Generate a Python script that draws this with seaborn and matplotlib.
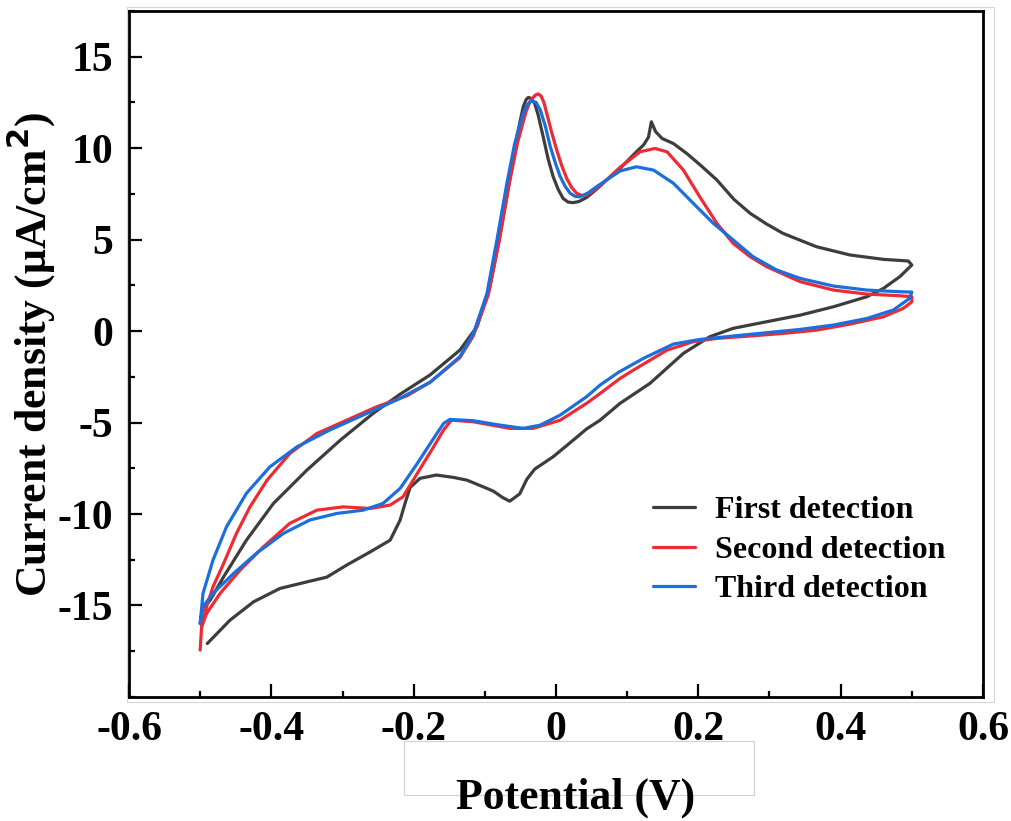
import numpy as np
import pandas as pd
import seaborn as sns
import matplotlib.pyplot as plt
from matplotlib.ticker import MultipleLocator, FixedLocator, FixedFormatter
from matplotlib.patches import Rectangle

# first detection (anodic branch then cathodic branch)
E1 = [-0.497, -0.486, -0.467, -0.435, -0.397, -0.350, -0.303, -0.257, -0.219, -0.177,
      -0.135, -0.111, -0.093, -0.079, -0.065, -0.055, -0.050, -0.046, -0.042, -0.039,
      -0.035, -0.030, -0.025, -0.018, -0.011, -0.004, 0.003, 0.010, 0.017, 0.024,
      0.032, 0.043, 0.057, 0.071, 0.090, 0.113, 0.123, 0.130, 0.134,
      0.140, 0.149, 0.165, 0.184, 0.205, 0.226, 0.250, 0.273, 0.296, 0.319,
      0.366, 0.413, 0.460, 0.495, 0.500,
      0.483, 0.460, 0.437, 0.390, 0.343, 0.296, 0.249, 0.216, 0.179, 0.132,
      0.090, 0.062, 0.043, 0.020, -0.004, -0.030, -0.041, -0.051, -0.058, -0.065,
      -0.075, -0.088, -0.097, -0.125, -0.144, -0.168, -0.191, -0.205, -0.212, -0.219,
      -0.233, -0.261, -0.294, -0.322, -0.350, -0.388, -0.425, -0.458, -0.490]
J1 = [-15.2, -14.71, -13.43, -11.43, -9.42, -7.60, -5.96, -4.50, -3.45, -2.40,
      -1.04, 0.24, 2.42, 5.16, 8.26, 10.62, 11.55, 12.26, 12.65, 12.77,
      12.72, 12.45, 11.80, 10.62, 9.40, 8.44, 7.75, 7.25, 7.05, 7.02,
      7.08, 7.30, 7.75, 8.26, 8.89, 9.80, 10.17, 10.6, 11.44,
      10.9, 10.53, 10.25, 9.70, 9.0, 8.26, 7.2, 6.43, 5.85, 5.34,
      4.61, 4.16, 3.92, 3.83, 3.61,
      2.97, 2.33, 1.88, 1.33, 0.87, 0.51, 0.15, -0.31, -1.22, -2.86,
      -3.95, -4.87, -5.35, -6.1, -6.87, -7.55, -8.10, -8.90, -9.10, -9.30,
      -9.10, -8.75, -8.60, -8.15, -8.00, -7.87, -8.05, -8.55, -9.4, -10.33,
      -11.43, -12.07, -12.79, -13.45, -13.71, -14.07, -14.80, -15.80, -17.08]

# second detection
E2 = [-0.500, -0.498, -0.491, -0.482, -0.467, -0.449, -0.430, -0.406, -0.374, -0.336,
      -0.294, -0.252, -0.210, -0.177, -0.135, -0.116, -0.095, -0.080, -0.066, -0.054,
      -0.042, -0.036, -0.029, -0.025, -0.021, -0.017, -0.013, -0.006, 0.001, 0.008,
      0.015, 0.022, 0.029, 0.036, 0.043, 0.054, 0.066,
      0.090, 0.118, 0.139, 0.156, 0.179, 0.202, 0.226, 0.249, 0.273, 0.296,
      0.343, 0.390, 0.437, 0.483, 0.500, 0.500,
      0.488, 0.460, 0.413, 0.366, 0.319, 0.273, 0.226, 0.193, 0.156, 0.109,
      0.090, 0.062, 0.043, 0.006, -0.032, -0.065, -0.116, -0.147, -0.158, -0.172,
      -0.196, -0.215, -0.233, -0.261, -0.299, -0.336, -0.374, -0.411, -0.444, -0.472,
      -0.491, -0.498]
J2 = [-17.44, -16.17, -15.07, -13.98, -12.70, -11.06, -9.61, -8.15, -6.69, -5.60,
      -4.87, -4.14, -3.55, -2.80, -1.45, -0.25, 2.0, 4.9, 8.0, 10.3,
      12.0, 12.6, 12.9, 12.96, 12.85, 12.5, 11.90, 10.85, 9.90, 9.05,
      8.35, 7.85, 7.53, 7.42, 7.44, 7.70, 8.08,
      8.95, 9.80, 9.98, 9.80, 8.80, 7.34, 5.89, 4.79, 4.06, 3.52,
      2.70, 2.24, 2.02, 1.93, 1.88, 1.60,
      1.24, 0.78, 0.38, 0.05, -0.13, -0.27, -0.40, -0.58, -1.04, -2.13,
      -2.59, -3.41, -3.95, -4.87, -5.32, -5.32, -4.96, -4.87, -5.41, -6.33,
      -7.85, -9.06, -9.51, -9.70, -9.61, -9.79, -10.51, -11.79, -13.07, -14.34,
      -15.44, -16.17]

# third detection
E3 = [-0.500, -0.496, -0.482, -0.463, -0.435, -0.402, -0.364, -0.318, -0.271, -0.224,
      -0.177, -0.135, -0.116, -0.097, -0.083, -0.069, -0.058, -0.046, -0.040, -0.034,
      -0.028, -0.022, -0.015, -0.008, -0.001, 0.006, 0.013, 0.020, 0.027, 0.034,
      0.045, 0.057, 0.090, 0.113, 0.137, 0.165, 0.193,
      0.221, 0.249, 0.277, 0.310, 0.343, 0.390, 0.437, 0.483, 0.500, 0.497,
      0.474, 0.437, 0.390, 0.343, 0.296, 0.249, 0.202, 0.165, 0.123, 0.088,
      0.062, 0.043, 0.006, -0.022, -0.046, -0.079, -0.116, -0.149, -0.158, -0.172,
      -0.196, -0.219, -0.243, -0.271, -0.308, -0.346, -0.383, -0.421, -0.453, -0.482,
      -0.496, -0.500]
J3 = [-15.98, -14.34, -12.52, -10.70, -8.87, -7.42, -6.33, -5.41, -4.59, -3.77,
      -2.80, -1.40, -0.13, 2.06, 4.98, 8.08, 10.26, 11.90, 12.40, 12.59,
      12.50, 12.08, 11.20, 10.08, 9.20, 8.44, 7.90, 7.53, 7.36, 7.34,
      7.55, 7.89, 8.75, 8.98, 8.80, 8.08, 6.98,
      5.89, 4.98, 4.06, 3.34, 2.88, 2.46, 2.24, 2.15, 2.13, 1.79,
      1.15, 0.69, 0.33, 0.09, -0.09, -0.27, -0.46, -0.71, -1.49, -2.25,
      -2.95, -3.59, -4.59, -5.14, -5.32, -5.14, -4.90, -4.83, -5.05, -5.87,
      -7.30, -8.60, -9.42, -9.79, -9.97, -10.33, -11.06, -12.15, -13.25, -14.34,
      -15.07, -15.98]

labels = ["First detection", "Second detection", "Third detection"]
colors = ["#3d3d3d", "#ee2b35", "#1a6fdc"]

xticks = [-0.6, -0.4, -0.2, 0.0, 0.2, 0.4, 0.6]
xtick_labels = ["-0.6", "-0.4", "-0.2", "0", "0.2", "0.4", "0.6"]
yticks = [-15, -10, -5, 0, 5, 10, 15]
ytick_labels = ["-15", "-10", "-5", "0", "5", "10", "15"]

sns.set_style("ticks")
plt.rcParams["font.family"] = ["Liberation Serif", "DejaVu Serif"]
plt.rcParams["font.weight"] = "bold"
plt.rcParams["axes.unicode_minus"] = False
plt.rcParams["text.color"] = "black"
plt.rcParams["axes.labelcolor"] = "black"

fig = plt.figure(figsize=(10.11, 8.21), dpi=100)
ax = fig.add_axes([0.1276, 0.1511, 0.8447, 0.8356])

for E, J, lab, c in zip([E1, E2, E3], [J1, J2, J3], labels, colors):
    d = pd.DataFrame({"E": E, "J": J})
    sns.lineplot(data=d, x="E", y="J", sort=False, estimator=None,
                 color=c, lw=2.3, label=lab, ax=ax,
                 solid_joinstyle="round", solid_capstyle="round")

ax.set_xlim(-0.6, 0.6)
ax.set_ylim(-20, 17.5)
ax.xaxis.set_major_locator(FixedLocator(xticks))
ax.xaxis.set_major_formatter(FixedFormatter(xtick_labels))
ax.xaxis.set_minor_locator(MultipleLocator(0.1))
ax.yaxis.set_major_locator(FixedLocator(yticks))
ax.yaxis.set_major_formatter(FixedFormatter(ytick_labels))
ax.yaxis.set_minor_locator(MultipleLocator(2.5))

for s in ax.spines.values():
    s.set_linewidth(2.0)
    s.set_color("black")
ax.tick_params(which="both", direction="in", width=1.6, colors="black")
ax.tick_params(which="major", length=9.5, labelsize=30)
ax.tick_params(which="minor", length=4.5)
ax.tick_params(axis="x", which="major", pad=10)
ax.tick_params(axis="y", which="major", pad=11.5)
for t in ax.get_xticklabels() + ax.get_yticklabels():
    t.set_fontweight("bold")

ax.set_xlabel("Potential (V)", fontsize=31.5, fontweight="bold")
ax.set_ylabel("Current density (μA/cm$^{\\mathbf{2}}$)", fontsize=31.5, fontweight="bold")
ax.xaxis.set_label_coords(0.523, -0.118)
ax.yaxis.set_label_coords(-0.083, 0.5)

leg = ax.legend(loc="center left", bbox_to_anchor=(0.646, 0.330),
                bbox_transform=fig.transFigure, frameon=False,
                prop={"family": "Liberation Serif", "weight": "bold", "size": 23},
                handlelength=1.3, handletextpad=0.63, labelspacing=0.31,
                borderpad=0, borderaxespad=0)

# faint frames left from the original image
fig.patches.append(Rectangle((127 / 1011, 1 - 702 / 821), 867 / 1011, 695 / 821,
                             transform=fig.transFigure, fill=False,
                             ec="#d6d6d6", lw=0.8, zorder=-1))
fig.patches.append(Rectangle((404 / 1011, 1 - 795 / 821), 350 / 1011, 54 / 821,
                             transform=fig.transFigure, fill=False,
                             ec="#d0d0d0", lw=0.8, zorder=-1))

fig.savefig("out.png", dpi=100)
